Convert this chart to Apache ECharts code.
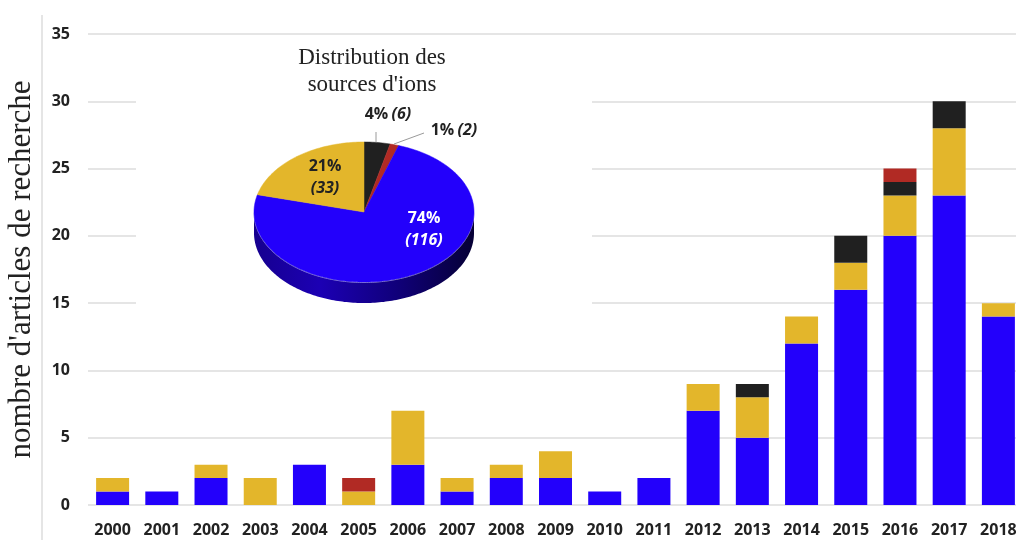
<!DOCTYPE html>
<html>
<head>
<meta charset="utf-8">
<script src="https://cdn.jsdelivr.net/npm/echarts@6/dist/echarts.min.js"></script>
<style>
  html, body { margin: 0; padding: 0; background: #fff; }
  #chart { width: 1016px; height: 540px; }
</style>
</head>
<body>
<div id="chart"></div>
<script>
// données de l'histogramme
var annees = ['2000', '2001', '2002', '2003', '2004', '2005', '2006', '2007', '2008', '2009',
              '2010', '2011', '2012', '2013', '2014', '2015', '2016', '2017', '2018'];
var bleu  = [1, 1, 2, 0, 3, 0, 3, 1, 2, 2, 1, 2, 7, 5, 12, 16, 20, 23, 14];
var jaune = [1, 0, 1, 2, 0, 1, 4, 1, 1, 2, 0, 0, 2, 3, 2, 2, 3, 5, 1];
var noir  = [0, 0, 0, 0, 0, 0, 0, 0, 0, 0, 0, 0, 0, 1, 0, 2, 1, 2, 0];
var rouge = [0, 0, 0, 0, 0, 1, 0, 0, 0, 0, 0, 0, 0, 0, 0, 0, 1, 0, 0];

// données du camembert (sens horaire depuis le haut)
var pieNoms = ['noir', 'rouge', 'bleu', 'jaune'];
var pieValeurs = [6, 2, 116, 33];

var C_BLEU = '#2300fb', C_JAUNE = '#e3b62b', C_NOIR = '#202020', C_ROUGE = '#b12a24';
var pieCouleurs = [C_NOIR, C_ROUGE, C_BLEU, C_JAUNE];

// géométrie du camembert 3D
var PIE = { cx: 364, cy: 212, rx: 110, ry: 70, h: 21 };
// placement des étiquettes (décalage par rapport au centre)
var pieLabels = [
  { dx: 24, dy: -98, fill: '#222', one: true, lead: [[376, 142], [376, 132]] },
  { dx: 90, dy: -82, fill: '#222', one: true, lead: [[394, 144], [424, 133]] },
  { dx: 60, dy: 17, fill: '#fff' },
  { dx: -39, dy: -35, fill: '#222' }
];

var total = pieValeurs.reduce(function (a, b) { return a + b; }, 0);
var debuts = [], fins = [];
(function () {
  var acc = 0;
  for (var i = 0; i < pieValeurs.length; i++) {
    debuts.push(acc / total * Math.PI * 2);
    acc += pieValeurs[i];
    fins.push(acc / total * Math.PI * 2);
  }
})();

function pt(t, dy) {
  return [PIE.cx + PIE.rx * Math.sin(t), PIE.cy - PIE.ry * Math.cos(t) + (dy || 0)];
}

function arc(a, b, dy) {
  var pts = [];
  var n = Math.max(2, Math.ceil((b - a) / 0.02));
  for (var k = 0; k <= n; k++) pts.push(pt(a + (b - a) * k / n, dy));
  return pts;
}

// faces latérales (seule la moitié avant est visible)
function renderCote(params, api) {
  var i = params.dataIndex;
  var a = Math.max(debuts[i], Math.PI / 2), b = Math.min(fins[i], Math.PI * 3 / 2);
  if (b <= a) return { type: 'group', children: [] };
  var pts = arc(a, b, 0).concat(arc(a, b, PIE.h).reverse());
  return {
    type: 'group',
    children: [{
      type: 'polygon',
      shape: { points: pts },
      style: {
        fill: {
          type: 'linear', x: 0, y: 0, x2: 1, y2: 0,
          colorStops: [
            { offset: 0, color: '#16008f' },
            { offset: 0.3, color: '#1c00b4' },
            { offset: 0.65, color: '#10007a' },
            { offset: 1, color: '#060035' }
          ]
        }
      }
    }, {
      type: 'polyline',
      shape: { points: arc(a, b, 0.5) },
      style: { stroke: 'rgba(200,200,230,0.7)', lineWidth: 1, fill: null }
    }]
  };
}

// faces supérieures + étiquettes
function renderDessus(params, api) {
  var i = params.dataIndex;
  var v = api.value(0);
  var pts = [[PIE.cx, PIE.cy]].concat(arc(debuts[i], fins[i], 0));
  var lab = pieLabels[i];
  var pct = Math.round(v / total * 100) + '%';
  var children = [{
    type: 'polygon',
    shape: { points: pts },
    style: { fill: pieCouleurs[i], stroke: pieCouleurs[i], lineWidth: 0.5 }
  }];
  if (lab.lead) {
    children.push({
      type: 'polyline', shape: { points: lab.lead },
      style: { stroke: '#9a9a9a', lineWidth: 1, fill: null }
    });
  }
  children.push({
    type: 'text',
    x: PIE.cx + lab.dx, y: PIE.cy + lab.dy,
    style: {
      text: lab.one ? '{p|' + pct + '} {n|(' + v + ')}' : '{p|' + pct + '}\n{n|(' + v + ')}',
      align: 'center', verticalAlign: 'middle',
      rich: {
        p: { fontFamily: 'Open Sans', fontWeight: 'bold', fontSize: 16, fill: lab.fill, lineHeight: 22 },
        n: { fontFamily: 'Open Sans', fontWeight: 'bold', fontStyle: 'italic', fontSize: 16, fill: lab.fill, lineHeight: 22 }
      }
    }
  });
  return { type: 'group', children: children };
}

var chart = echarts.init(document.getElementById('chart'));

function barre(nom, data, couleur) {
  return {
    name: nom, type: 'bar', stack: 'total', data: data,
    barWidth: 33,
    itemStyle: { color: couleur },
    z: 2
  };
}

var option = {
  animation: false,
  backgroundColor: '#fff',
  grid: { left: 88, right: -7, top: 34, bottom: 35, outerBoundsMode: 'none', containLabel: false },
  xAxis: {
    type: 'category',
    data: annees,
    axisLine: { show: false },
    axisTick: { show: false },
    axisLabel: {
      margin: 17,
      color: '#222',
      fontFamily: 'Open Sans', fontWeight: 'bold', fontSize: 16
    }
  },
  yAxis: {
    type: 'value',
    min: 0, max: 35, interval: 5,
    name: "nombre d'articles de recherche",
    nameLocation: 'middle',
    nameGap: 51,
    nameRotate: 90,
    nameTextStyle: { fontFamily: 'Liberation Serif', fontSize: 31, color: '#222' },
    axisLine: { show: false },
    axisTick: { show: false },
    axisLabel: {
      margin: 18,
      color: '#222',
      fontFamily: 'Open Sans', fontWeight: 'bold', fontSize: 16
    },
    splitLine: { lineStyle: { color: '#dcdcdc', width: 1.5 } }
  },
  graphic: [
    { type: 'line', shape: { x1: 42, y1: 15, x2: 42, y2: 540 },
      style: { stroke: '#dcdcdc', lineWidth: 1.5 }, z: 5 },
    { type: 'rect', shape: { x: 136, y: 44, width: 456, height: 280 },
      style: { fill: '#fff' }, z: 5 },
    { type: 'text', x: 372, y: 44, z: 6,
      style: {
        text: 'Distribution des\nsources d\'ions',
        align: 'center', verticalAlign: 'top',
        fontFamily: 'Liberation Serif', fontSize: 23, lineHeight: 27, fill: '#222'
      } }
  ],
  series: [
    barre('bleu', bleu, C_BLEU),
    barre('jaune', jaune, C_JAUNE),
    barre('noir', noir, C_NOIR),
    barre('rouge', rouge, C_ROUGE),
    { type: 'custom', name: 'côtés', coordinateSystem: 'none', renderItem: renderCote,
      data: pieValeurs, z: 10, silent: true },
    { type: 'custom', name: 'dessus', coordinateSystem: 'none', renderItem: renderDessus,
      data: pieValeurs, z: 11, silent: true }
  ]
};
chart.setOption(option);
</script>
</body>
</html>
